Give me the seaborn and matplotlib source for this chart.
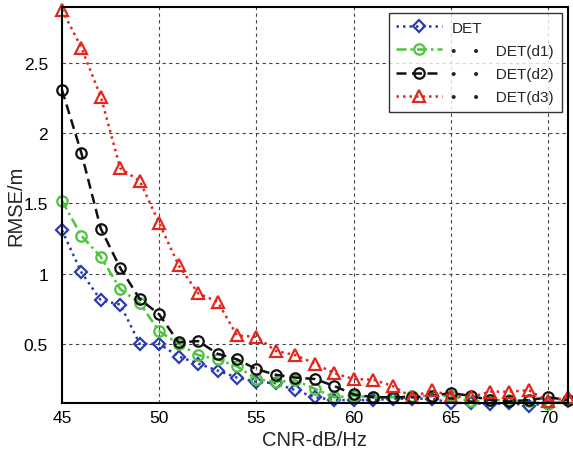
import matplotlib
matplotlib.use("Agg")
import matplotlib.pyplot as plt
import seaborn as sns
import pandas as pd

cnr = list(range(45, 72))
det = [1.31, 1.01, 0.81, 0.78, 0.50, 0.50, 0.41, 0.36, 0.31, 0.26, 0.23, 0.22, 0.17, 0.12, 0.10,
       0.10, 0.10, 0.11, 0.11, 0.11, 0.08, 0.08, 0.07, 0.08, 0.06, 0.08, 0.09]
det_d1 = [1.52, 1.27, 1.12, 0.89, 0.79, 0.59, 0.50, 0.42, 0.39, 0.34, 0.25, 0.23, 0.24, 0.18, 0.12,
          0.13, 0.12, 0.12, 0.13, 0.13, 0.13, 0.09, 0.10, 0.10, 0.09, 0.07, 0.10]
det_d2 = [2.31, 1.86, 1.32, 1.04, 0.82, 0.71, 0.51, 0.52, 0.43, 0.39, 0.32, 0.28, 0.26, 0.25, 0.20,
          0.14, 0.12, 0.12, 0.12, 0.13, 0.15, 0.13, 0.10, 0.09, 0.10, 0.12, 0.10]
det_d3 = [2.88, 2.61, 2.26, 1.75, 1.66, 1.36, 1.06, 0.86, 0.80, 0.56, 0.55, 0.45, 0.42, 0.36, 0.29,
          0.25, 0.245, 0.20, 0.12, 0.17, 0.13, 0.12, 0.16, 0.16, 0.17, 0.09, 0.12]
series_names = ["DET", "DET(d1)", "DET(d2)", "DET(d3)"]
legend_labels = ["DET", "\u2022    \u2022    DET(d1)", "\u2022    \u2022    DET(d2)", "\u2022    \u2022    DET(d3)"]
xticks = [45, 50, 55, 60, 65, 70]
yticks = [0.5, 1, 1.5, 2, 2.5]

sns.set_style("white")
plt.rcParams['font.family'] = ['Liberation Sans', 'DejaVu Sans']

fig = plt.figure(figsize=(5.73, 4.60), dpi=100)
ax = fig.add_axes([0.108, 0.122, 0.883, 0.861])

styles = [
    dict(color="#2a3db0", dashes=(1, 1.6), marker="D", ms=6.5),
    dict(color="#4cc43c", dashes=(4, 1.6, 1, 1.6), marker="o", ms=7.5),
    dict(color="#111111", dashes=(4, 2.2), marker="o", ms=7.5),
    dict(color="#e2281e", dashes=(1, 1.6), marker="^", ms=8.5),
]
data = [det, det_d1, det_d2, det_d3]
for name, lab, vals, st in zip(series_names, legend_labels, data, styles):
    df = pd.DataFrame({"CNR": cnr, "RMSE": vals})
    lines_before = len(ax.lines)
    sns.lineplot(data=df, x="CNR", y="RMSE", ax=ax, color=st["color"],
                 linewidth=1.8, marker=st["marker"], markersize=st["ms"], markerfacecolor="none",
                 markeredgecolor=st["color"], markeredgewidth=1.6, label=lab, clip_on=False)
    for ln in ax.lines[lines_before:]:
        ln.set_dashes(st["dashes"])

ax.set_xlim(45, 71)
ax.set_ylim(0.08, 2.9)
ax.set_xticks(xticks)
ax.set_yticks(yticks)
ax.set_yticklabels(["0.5", "1", "1.5", "2", "2.5"])
ax.tick_params(direction="in", labelsize=12.5, length=5, width=1, colors="black")
ax.tick_params(axis="y", pad=10)
ax.tick_params(axis="x", pad=5)
ax.grid(True, linestyle=(0, (3, 3)), color="#444444", linewidth=0.8)
for sp in ax.spines.values():
    sp.set_color("black")
    sp.set_linewidth(1.5)
ax.set_xlabel("CNR-dB/Hz", fontsize=14.5)
ax.set_ylabel("RMSE/m", fontsize=14.5)
ax.xaxis.set_label_coords(0.5, -0.093)
ax.yaxis.set_label_coords(-0.091, 0.5)
ax.yaxis.label.set_verticalalignment("center")
ax.xaxis.label.set_verticalalignment("center")

leg = ax.legend(loc="upper right", fontsize=11, frameon=True, fancybox=False, handlelength=3.0,
                borderaxespad=0.4, labelspacing=0.6, handletextpad=0.6, borderpad=0.5)
leg.get_frame().set_edgecolor("black")
leg.get_frame().set_linewidth(1.0)

fig.savefig("out.png", dpi=100)
